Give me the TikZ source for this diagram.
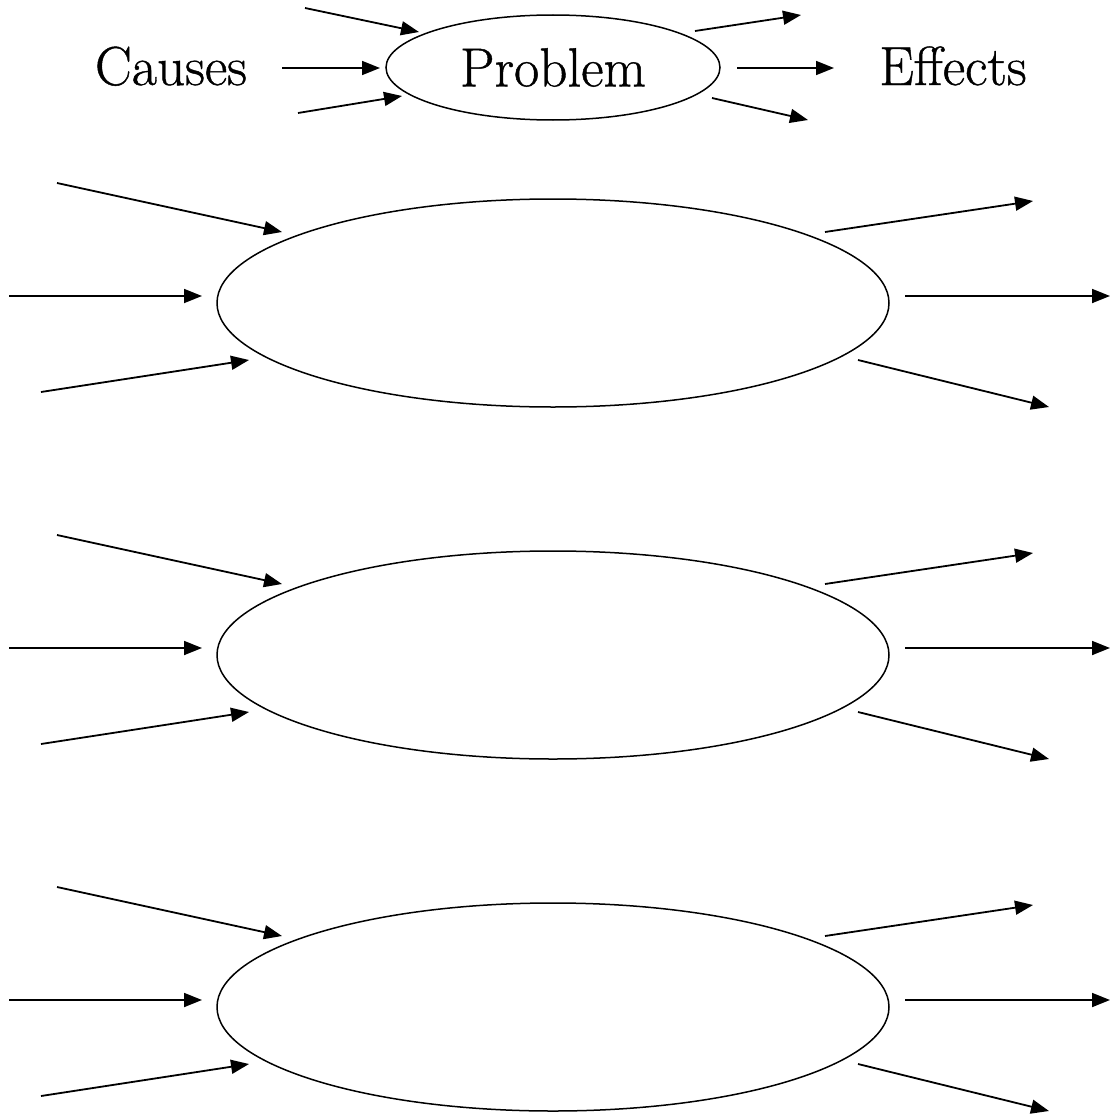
\documentclass[tikz,border=0pt]{standalone}
\usepackage{fontspec}
\newfontfamily\lblfont[FakeBold=0.8]{Latin Modern Roman}
\usetikzlibrary{arrows.meta,shapes.geometric}
\begin{document}
\begin{tikzpicture}[x=1pt,y=-1pt,
  arr/.style={line width=1.8pt,-{Triangle[length=18pt,width=14pt]}},
  bigell/.style={draw,line width=1.5pt,ellipse,minimum width=672pt,minimum height=208pt,inner sep=0pt},
  smallell/.style={draw,line width=1.5pt,ellipse,minimum width=334pt,minimum height=105pt,inner sep=0pt,font=\lblfont\fontsize{55}{66}\selectfont},
  lbl/.style={font=\lblfont\fontsize{55}{66}\selectfont,anchor=base,inner sep=0pt}]
\useasboundingbox (0,0) rectangle (1110,1116);
% top legend
\node[smallell] (prob) at (553,67.5) {Problem};
\node[lbl] (causes) at (171,85) {Causes};
\node[lbl] (effects) at (953,85) {Effects};
\coordinate (t-lt-s) at (305,8);   \coordinate (t-lt-e) at (419,32);
\coordinate (t-lm-s) at (282,68);  \coordinate (t-lm-e) at (380,68);
\coordinate (t-lb-s) at (298,113); \coordinate (t-lb-e) at (402,96);
\coordinate (t-rt-s) at (695,31);  \coordinate (t-rt-e) at (801,15);
\coordinate (t-rm-s) at (737,68);  \coordinate (t-rm-e) at (834,68);
\coordinate (t-rb-s) at (712,98);  \coordinate (t-rb-e) at (808,120);
\foreach \p in {lt,lm,lb,rt,rm,rb} \draw[arr] (t-\p-s) -- (t-\p-e);
% three large ellipses
\foreach \k/\cy in {1/303,2/655,3/1007} {
  \node[bigell] (e\k) at (553,\cy) {};
  \coordinate (e\k-lt-s) at (57,\cy-120);  \coordinate (e\k-lt-e) at (282,\cy-71);
  \coordinate (e\k-lm-s) at (9,\cy-7);     \coordinate (e\k-lm-e) at (202,\cy-7);
  \coordinate (e\k-lb-s) at (41,\cy+89);   \coordinate (e\k-lb-e) at (249,\cy+57);
  \coordinate (e\k-rt-s) at (825,\cy-71);  \coordinate (e\k-rt-e) at (1033,\cy-102);
  \coordinate (e\k-rm-s) at (905,\cy-7);   \coordinate (e\k-rm-e) at (1110,\cy-7);
  \coordinate (e\k-rb-s) at (858,\cy+57);  \coordinate (e\k-rb-e) at (1049,\cy+104);
  \foreach \p in {lt,lm,lb,rt,rm,rb} \draw[arr] (e\k-\p-s) -- (e\k-\p-e);
}
\end{tikzpicture}
\end{document}
